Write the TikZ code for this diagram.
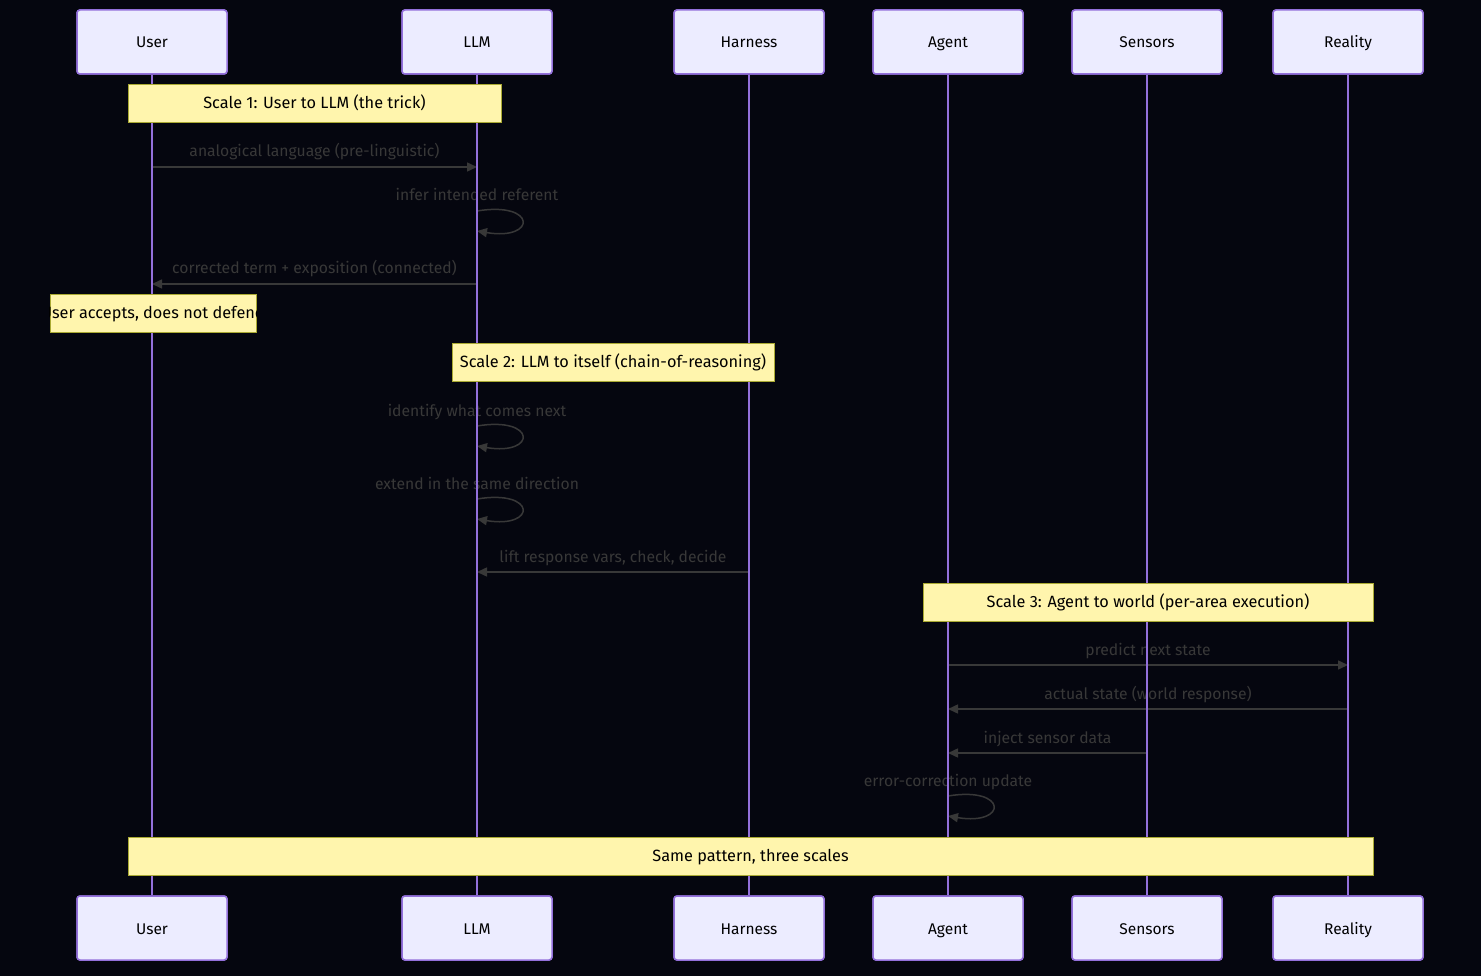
\documentclass[tikz,border=0pt]{standalone}
\usepackage{fontspec}
\setmainfont{Fira Sans}
\usetikzlibrary{arrows.meta}
\definecolor{bgcol}{HTML}{05060F}
\definecolor{actfill}{HTML}{ECECFF}
\definecolor{actline}{HTML}{9370DB}
\definecolor{notefill}{HTML}{FFF5AD}
\definecolor{noteline}{HTML}{AAAA33}
\definecolor{sigcol}{HTML}{383838}
\tikzstyle{actor} = [draw=actline, fill=actfill, line width=1.5pt, rounded corners=3pt, minimum width=150pt, minimum height=64pt, text height=12pt, text depth=0pt, text=black, font=\fontsize{15.5}{18}\selectfont]
\tikzstyle{lifeline} = [draw=actline, line width=2pt]
\tikzstyle{note} = [draw=noteline, fill=notefill, line width=1pt, minimum height=38pt, inner sep=0pt, text height=10pt, text depth=0pt, text=black, font=\fontsize{16.3}{19}\selectfont]
\tikzstyle{msg} = [draw=sigcol, line width=1.5pt, -{Triangle[length=10pt,width=9pt]}]
\tikzstyle{msglabel} = [text=sigcol, inner sep=0pt, anchor=base, yshift=10pt, font=\fontsize{15.7}{18}\selectfont]

\begin{document}
\begin{tikzpicture}[x=1pt, y=-1pt]

    \fill[bgcol] (0,0) rectangle (1481,976); % page background

    % participants, top and bottom
    \node (user) [actor] at (152,42) {User};
    \node (llm) [actor] at (477,42) {LLM};
    \node (harness) [actor] at (749,42) {Harness};
    \node (agent) [actor] at (948,42) {Agent};
    \node (sensors) [actor] at (1147,42) {Sensors};
    \node (reality) [actor] at (1348,42) {Reality};
    \node (userB) [actor] at (152,928) {User};
    \node (llmB) [actor] at (477,928) {LLM};
    \node (harnessB) [actor] at (749,928) {Harness};
    \node (agentB) [actor] at (948,928) {Agent};
    \node (sensorsB) [actor] at (1147,928) {Sensors};
    \node (realityB) [actor] at (1348,928) {Reality};

    % message rows
    \coordinate (m1) at (0,167);
    \coordinate (s1) at (0,211);
    \coordinate (s1e) at (0,231);
    \coordinate (m2) at (0,284);
    \coordinate (s2) at (0,426);
    \coordinate (s2e) at (0,446);
    \coordinate (s3) at (0,499);
    \coordinate (s3e) at (0,519);
    \coordinate (m3) at (0,572);
    \coordinate (m4) at (0,665);
    \coordinate (m5) at (0,709);
    \coordinate (m6) at (0,753);
    \coordinate (s4) at (0,796);
    \coordinate (s4e) at (0,816);

    \draw[msg] (user |- m1) -- node[msglabel, midway] {analogical language (pre-linguistic)} (llm |- m1);
    \draw[msg] (llm |- s1) node[msglabel] {infer intended referent} .. controls +(60,-10) and +(60,10) .. (llm |- s1e);
    \draw[msg] (llm |- m2) -- node[msglabel, midway] {corrected term + exposition (connected)} (user |- m2);
    \draw[msg] (llm |- s2) node[msglabel] {identify what comes next} .. controls +(60,-10) and +(60,10) .. (llm |- s2e);
    \draw[msg] (llm |- s3) node[msglabel] {extend in the same direction} .. controls +(60,-10) and +(60,10) .. (llm |- s3e);
    \draw[msg] (harness |- m3) -- node[msglabel, midway] {lift response vars, check, decide} (llm |- m3);
    \draw[msg] (agent |- m4) -- node[msglabel, midway] {predict next state} (reality |- m4);
    \draw[msg] (reality |- m5) -- node[msglabel, midway] {actual state (world response)} (agent |- m5);
    \draw[msg] (sensors |- m6) -- node[msglabel, midway] {inject sensor data} (agent |- m6);
    \draw[msg] (agent |- s4) node[msglabel] {error-correction update} .. controls +(60,-10) and +(60,10) .. (agent |- s4e);

    % lifelines
    \draw[lifeline] (user) -- (userB);
    \draw[lifeline] (llm) -- (llmB);
    \draw[lifeline] (harness) -- (harnessB);
    \draw[lifeline] (agent) -- (agentB);
    \draw[lifeline] (sensors) -- (sensorsB);
    \draw[lifeline] (reality) -- (realityB);
    \node[actor] at (user) {User};
    \node[actor] at (llm) {LLM};
    \node[actor] at (harness) {Harness};
    \node[actor] at (agent) {Agent};
    \node[actor] at (sensors) {Sensors};
    \node[actor] at (reality) {Reality};
    \node[actor] at (userB) {User};
    \node[actor] at (llmB) {LLM};
    \node[actor] at (harnessB) {Harness};
    \node[actor] at (agentB) {Agent};
    \node[actor] at (sensorsB) {Sensors};
    \node[actor] at (realityB) {Reality};

    % notes
    \node (scale1) [note, minimum width=373pt] at (314.5,104) {Scale 1: User to LLM (the trick)};
    \node (accept) [note, minimum width=206pt] at (153,314) {};
    \begin{scope}
        \clip (accept.south west) rectangle (accept.north east);
        \node[note, draw=none, fill=none] at (accept) {User accepts, does not defend};
    \end{scope}
    \node (scale2) [note, minimum width=322pt] at (613,362.5) {Scale 2: LLM to itself (chain-of-reasoning)};
    \node (scale3) [note, minimum width=450pt] at (1148,602) {Scale 3: Agent to world (per-area execution)};
    \node (same) [note, minimum width=1245pt] at (750.5,856) {Same pattern, three scales};

\end{tikzpicture}
\end{document}
